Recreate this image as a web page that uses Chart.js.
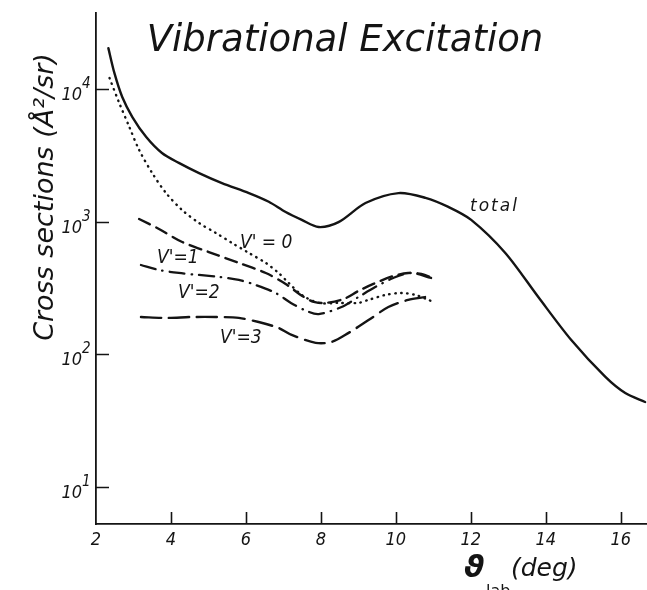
<!DOCTYPE html>
<html>
<head>
<meta charset="utf-8">
<script src="https://cdn.jsdelivr.net/npm/chart.js@4.4.1/dist/chart.umd.min.js"></script>
<style>
  html, body { margin: 0; padding: 0; background: #fff; }
  canvas { display: block; }
</style>
</head>
<body>
<canvas id="graf" width="647" height="590"></canvas>
<script>
/*
  Vibrational Excitation — secções eficazes vs ângulo (escala log).
  Valores lidos à mão da figura original.
*/

const TINTA = '#141414';
const FONTE = '"DejaVu Sans", sans-serif';
const FONTE_ESTREITA = '"DejaVu Sans Condensed", "DejaVu Sans", sans-serif';

const X_TICKS = [2, 4, 6, 8, 10, 12, 14, 16];
const Y_TICKS = [10, 100, 1000, 10000];
const Y_EXPOENTES = ['1', '2', '3', '4'];

// total (linha cheia)
const totalX = [2.33, 2.49, 2.70, 2.97, 3.34, 3.76, 4.21, 4.75, 5.36, 6.08, 6.61, 7.06, 7.49, 7.94,
                8.47, 9.19, 10.07, 10.79, 11.40, 12.01, 12.92, 13.80, 14.68, 15.59, 16.12, 16.65];
const totalY = [20300, 13200, 8690, 6140, 4340, 3290, 2770, 2320, 1950, 1640, 1410, 1180, 1030, 910,
                990, 1380, 1640, 1510, 1290, 1030, 580, 270, 128, 67.5, 51, 43.7];

// V'=0 (pontilhado)
const v0X = [2.36, 2.62, 2.89, 3.15, 3.50, 3.87, 4.30, 4.75, 5.20, 5.63, 6.08, 6.53, 6.87, 7.14,
             7.49, 7.94, 8.47, 9.00, 9.27, 9.72, 10.15, 10.52, 10.87, 11.05];
const v0Y = [12080, 7830, 5160, 3470, 2320, 1640, 1220, 975, 820, 690, 580, 488, 410, 345,
             280, 244, 244, 244, 257, 280, 290, 280, 257, 244];

// V'=1 (tracejado)
const v1X = [3.15, 3.68, 4.30, 5.01, 5.81, 6.53, 7.06, 7.46, 7.81, 8.13, 8.61, 9.00, 9.40, 9.93,
             10.33, 10.68, 11.05];
const v1Y = [1047, 880, 702, 590, 488, 410, 339, 280, 248, 244, 261, 300, 339, 389,
             410, 403, 369];

// V'=2 (traço-ponto)
const v2X = [3.20, 3.68, 4.21, 4.75, 5.28, 5.81, 6.26, 6.79, 7.20, 7.62, 7.94, 8.55, 9.00, 9.45,
             9.93, 10.41, 10.94];
const v2Y = [471, 432, 410, 396, 383, 363, 333, 290, 244, 212, 201, 227, 270, 321,
             376, 410, 376];

// V'=3 (traço longo)
const v3X = [3.20, 3.87, 4.56, 5.20, 5.81, 6.34, 6.87, 7.22, 7.86, 8.29, 8.74, 9.27, 9.80, 10.33,
             10.78];
const v3Y = [191, 188, 191, 191, 188, 175, 158, 140, 122, 124, 145, 181, 227, 257,
             270];

const pares = (xs, ys) => xs.map((x, i) => ({ x, y: ys[i] }));

function serie(xs, ys, dash, largura) {
  return {
    data: pares(xs, ys),
    borderColor: TINTA,
    borderWidth: largura,
    borderDash: dash,
    borderCapStyle: 'round',
    tension: 0.3,
    pointRadius: 0,
    fill: false,
  };
}

// marcas internas, rótulos e textos da figura
const desenhos = {
  id: 'desenhos',
  afterDraw(chart) {
    const { ctx, chartArea: a } = chart;
    const { x, y } = chart.scales;
    ctx.save();
    ctx.strokeStyle = TINTA;
    ctx.fillStyle = TINTA;
    ctx.lineWidth = 1.6;

    ctx.beginPath();
    X_TICKS.slice(1).forEach((v) => {
      const px = Math.round(x.getPixelForValue(v)) + 0.5;
      ctx.moveTo(px, a.bottom);
      ctx.lineTo(px, a.bottom - 12);
    });
    Y_TICKS.forEach((v) => {
      const py = Math.round(y.getPixelForValue(v)) + 0.5;
      ctx.moveTo(a.left, py);
      ctx.lineTo(a.left + 13, py);
    });
    ctx.stroke();

    ctx.font = `italic 18px ${FONTE_ESTREITA}`;
    ctx.textAlign = 'center';
    ctx.textBaseline = 'alphabetic';
    X_TICKS.forEach((v) => ctx.fillText(String(v), x.getPixelForValue(v), a.bottom + 21));

    Y_TICKS.forEach((v, i) => {
      const py = y.getPixelForValue(v);
      ctx.font = `italic 18px ${FONTE_ESTREITA}`;
      ctx.textAlign = 'right';
      ctx.fillText('10', a.left - 14, py + 11);
      ctx.font = `italic 15px ${FONTE_ESTREITA}`;
      ctx.textAlign = 'left';
      ctx.fillText(Y_EXPOENTES[i], a.left - 14, py - 1);
    });

    // título
    ctx.font = `italic 37px ${FONTE}`;
    ctx.textAlign = 'center';
    ctx.fillText('Vibrational Excitation', 345, 51);

    // título do eixo y
    ctx.save();
    ctx.translate(53, 197);
    ctx.rotate(-Math.PI / 2);
    ctx.font = `italic 27px ${FONTE}`;
    ctx.textAlign = 'center';
    ctx.fillText('Cross sections (Å²/sr)', 0, 0);
    ctx.restore();

    // título do eixo x
    ctx.textAlign = 'left';
    ctx.font = `italic bold 31px ${FONTE}`;
    ctx.fillText('ϑ', 464, 577);
    ctx.font = `16px ${FONTE}`;
    ctx.fillText('lab', 486, 596);
    ctx.font = `italic 25px ${FONTE}`;
    ctx.fillText('(deg)', 511, 576);

    // nomes das curvas
    ctx.font = `italic 17px ${FONTE}`;
    if ('letterSpacing' in ctx) ctx.letterSpacing = '2px';
    ctx.fillText('total', 470, 211);
    if ('letterSpacing' in ctx) ctx.letterSpacing = '0px';
    ctx.font = `italic 19px ${FONTE_ESTREITA}`;
    ctx.fillText("V' = 0", 240, 248);
    ctx.fillText("V'=1", 157, 263);
    ctx.fillText("V'=2", 178, 298);
    ctx.fillText("V'=3", 220, 343);
    ctx.restore();
  },
};

new Chart(document.getElementById('graf'), {
  type: 'line',
  data: {
    datasets: [
      serie(totalX, totalY, [], 2.4),
      serie(v0X, v0Y, [0.5, 5.5], 2.4),
      serie(v1X, v1Y, [12, 7], 2.4),
      serie(v2X, v2Y, [15, 7, 0.5, 7], 2.3),
      serie(v3X, v3Y, [20, 8], 2.4),
    ],
  },
  options: {
    responsive: false,
    animation: false,
    devicePixelRatio: 1,
    layout: { padding: { left: 96, right: 0, top: 13, bottom: 66 } },
    plugins: { legend: { display: false }, tooltip: { enabled: false } },
    scales: {
      x: {
        type: 'linear', min: 2, max: 16.7,
        ticks: { display: false },
        grid: { display: true, drawOnChartArea: false, drawTicks: false },
        border: { display: true, color: TINTA, width: 1.8 },
      },
      y: {
        type: 'logarithmic', min: 5.26, max: 37330,
        ticks: { display: false },
        grid: { display: true, drawOnChartArea: false, drawTicks: false },
        border: { display: true, color: TINTA, width: 1.8 },
      },
    },
  },
  plugins: [desenhos],
});
</script>
</body>
</html>
